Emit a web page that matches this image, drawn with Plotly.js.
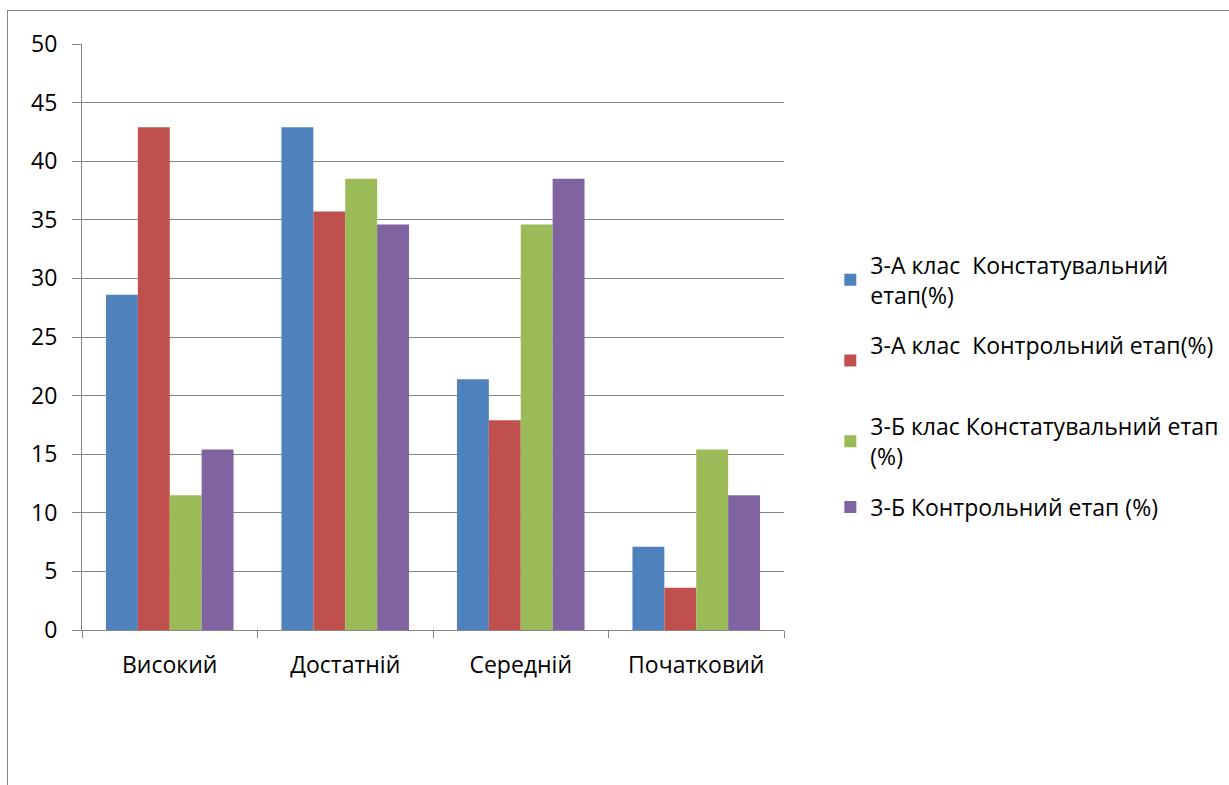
<!DOCTYPE html>
<html>
<head>
<meta charset="utf-8">
<script src="https://cdn.plot.ly/plotly-3.0.1.min.js"></script>
<style>
  html, body { margin: 0; padding: 0; background: #fff; }
  #chart { width: 1229px; height: 785px; position: absolute; left: 0; top: 0; }
  #frame { position: absolute; left: 7px; top: 10px; width: 1240px; height: 800px;
           border-top: 1px solid #868686; border-left: 1px solid #868686; pointer-events: none; }
</style>
</head>
<body>
<div id="chart"></div>
<div id="frame"></div>
<script>
const categories = ['Високий', 'Достатній', 'Середній', 'Початковий'];
const seriesNames = [
  '3-А клас  Констатувальний<br>етап(%)',
  '3-А клас  Контрольний етап(%)<br> ',
  '3-Б клас Констатувальний етап<br>(%)',
  '3-Б Контрольний етап (%)'
];
const aConst = [28.6, 42.9, 21.4, 7.1];
const aControl = [42.9, 35.7, 17.9, 3.6];
const bConst = [11.5, 38.5, 34.6, 15.4];
const bControl = [15.4, 34.6, 38.5, 11.5];
const colors = ['#4F81BD', '#C0504D', '#9BBB59', '#8064A2'];
const yTicks = [0, 5, 10, 15, 20, 25, 30, 35, 40, 45, 50];

const values = [aConst, aControl, bConst, bControl];
const traces = values.map((v, i) => ({
  type: 'bar',
  x: categories,
  y: v,
  name: seriesNames[i],
  legendgroup: 'g' + i,
  marker: { color: colors[i], line: { width: 0 } },
  hoverinfo: 'y'
}));

const fontFam = '"Open Sans", sans-serif';
const layout = {
  width: 1229,
  height: 785,
  margin: { l: 82, r: 445, t: 44, b: 155, autoexpand: false },
  paper_bgcolor: '#ffffff',
  plot_bgcolor: '#ffffff',
  barmode: 'group',
  bargap: 0.273,
  bargroupgap: 0,
  font: { family: fontFam, size: 23, color: '#000' },
  xaxis: {
    type: 'category',
    showline: true,
    linecolor: '#868686',
    linewidth: 1,
    ticks: 'outside',
    tickson: 'boundaries',
    ticklen: 7,
    tickcolor: '#868686',
    showgrid: false,
    tickfont: { family: fontFam, size: 23, color: '#000' },
    ticklabelstandoff: 14
  },
  yaxis: {
    range: [0, 50],
    tickvals: yTicks,
    showline: true,
    linecolor: '#868686',
    linewidth: 1,
    ticks: 'outside',
    ticklen: 9,
    tickcolor: '#868686',
    showgrid: true,
    gridcolor: '#868686',
    gridwidth: 1,
    zeroline: false,
    tickfont: { family: fontFam, size: 23, color: '#000' },
    ticklabelstandoff: 10
  },
  showlegend: true,
  legend: {
    x: 1.066,
    xanchor: 'left',
    y: 0.66,
    yanchor: 'top',
    traceorder: 'grouped',
    tracegroupgap: 18,
    itemwidth: 30,
    font: { family: fontFam, size: 23, color: '#000' },
    bgcolor: 'rgba(0,0,0,0)'
  }
};

Plotly.newPlot('chart', traces, layout, { displayModeBar: false, staticPlot: true });
</script>
</body>
</html>
